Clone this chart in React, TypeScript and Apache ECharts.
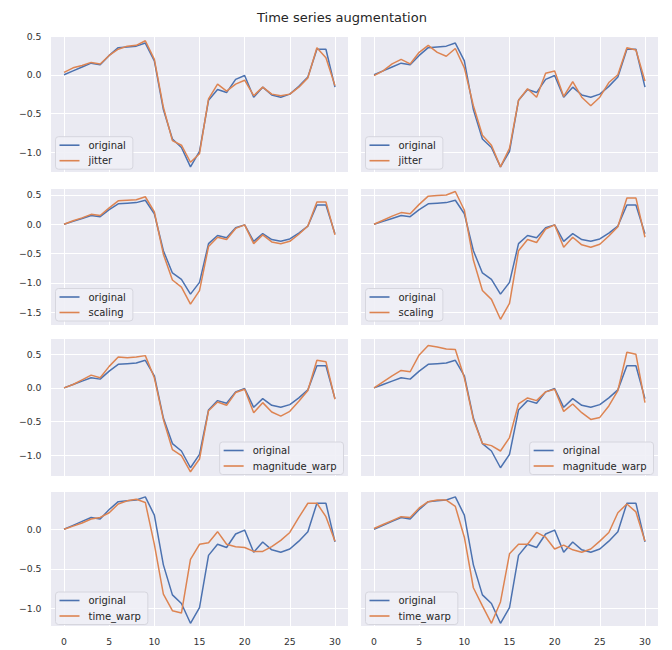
import React, { useEffect, useRef } from "react";
import * as echarts from "echarts";

const FONT = "DejaVu Sans";
const BLUE = "#4C72B0";
const ORANGE = "#DD8452";

const timeSteps = [0, 1, 2, 3, 4, 5, 6, 7, 8, 9, 10, 11, 12, 13, 14, 15, 16, 17, 18, 19, 20, 21, 22, 23, 24, 25, 26, 27, 28, 29, 30];

const original = [0.00, 0.05, 0.10, 0.15, 0.13, 0.25, 0.35, 0.36, 0.37, 0.41, 0.18, -0.45, -0.83, -0.94, -1.19, -0.99, -0.33, -0.19, -0.23, -0.06, -0.01, -0.29, -0.16, -0.26, -0.29, -0.25, -0.15, -0.03, 0.33, 0.33, -0.16];

const jitterA = [0.03, 0.09, 0.12, 0.16, 0.14, 0.25, 0.33, 0.37, 0.38, 0.44, 0.20, -0.42, -0.85, -0.91, -1.13, -1.02, -0.31, -0.12, -0.21, -0.12, -0.07, -0.27, -0.16, -0.25, -0.27, -0.25, -0.16, -0.04, 0.35, 0.22, -0.14];
const jitterB = [-0.01, 0.05, 0.14, 0.20, 0.14, 0.29, 0.38, 0.29, 0.24, 0.34, 0.09, -0.40, -0.78, -0.91, -1.19, -0.95, -0.33, -0.18, -0.29, 0.02, 0.05, -0.28, -0.09, -0.29, -0.40, -0.29, -0.10, 0.00, 0.35, 0.32, -0.08];

const scalingA = [0.00, 0.06, 0.11, 0.17, 0.15, 0.28, 0.40, 0.41, 0.42, 0.47, 0.21, -0.51, -0.95, -1.07, -1.36, -1.13, -0.38, -0.22, -0.26, -0.07, -0.01, -0.33, -0.18, -0.30, -0.33, -0.29, -0.17, -0.03, 0.38, 0.38, -0.18];
const scalingB = [0.00, 0.07, 0.14, 0.20, 0.18, 0.34, 0.48, 0.49, 0.50, 0.56, 0.24, -0.61, -1.13, -1.28, -1.62, -1.35, -0.45, -0.26, -0.31, -0.08, -0.01, -0.39, -0.22, -0.35, -0.39, -0.34, -0.20, -0.04, 0.45, 0.45, -0.22];

const magWarpA = [0.00, 0.05, 0.12, 0.19, 0.15, 0.32, 0.46, 0.45, 0.46, 0.48, 0.15, -0.47, -0.92, -1.01, -1.25, -1.06, -0.34, -0.21, -0.26, -0.07, -0.02, -0.37, -0.22, -0.36, -0.42, -0.35, -0.20, -0.04, 0.41, 0.39, -0.17];
const magWarpB = [0.00, 0.09, 0.18, 0.26, 0.24, 0.49, 0.63, 0.61, 0.58, 0.57, 0.15, -0.47, -0.83, -0.86, -0.94, -0.74, -0.24, -0.15, -0.19, -0.06, -0.02, -0.35, -0.24, -0.37, -0.47, -0.44, -0.27, -0.04, 0.53, 0.50, -0.22];

const timeWarpA = [0.00, 0.04, 0.08, 0.13, 0.15, 0.21, 0.32, 0.36, 0.38, 0.34, -0.19, -0.82, -1.03, -1.06, -0.38, -0.19, -0.17, -0.03, -0.19, -0.22, -0.23, -0.28, -0.28, -0.22, -0.14, -0.04, 0.15, 0.33, 0.33, 0.16, -0.15];
const timeWarpB = [0.01, 0.06, 0.11, 0.16, 0.15, 0.27, 0.35, 0.37, 0.37, 0.29, -0.10, -0.74, -0.97, -1.19, -0.92, -0.31, -0.19, -0.19, -0.04, -0.10, -0.25, -0.20, -0.26, -0.29, -0.25, -0.15, -0.04, 0.21, 0.32, 0.22, -0.15];

const augNames = ["jitter", "scaling", "magnitude_warp", "time_warp"];
const augData = [
  [jitterA, jitterB],
  [scalingA, scalingB],
  [magWarpA, magWarpB],
  [timeWarpA, timeWarpB],
];

const rowYMin = [-1.256, -1.717, -1.323, -1.233];
const rowYMax = [0.501, 0.614, 0.738, 0.476];
const rowTop = [36, 188.3, 338.3, 491.7];
const rowHeight = [136, 136.7, 138.4, 135];
const colLeft = [50.5, 360.5];
const plotWidth = 298;

function fmtY(v: number): string {
  const r = v / 0.5;
  if (Math.abs(r - Math.round(r)) > 1e-6) return "";
  const s = Math.abs(v).toFixed(1);
  return v < -1e-9 ? "\u2212" + s : s;
}

function fmtX(v: number): string {
  const r = v / 5;
  if (Math.abs(r - Math.round(r)) > 1e-6) return "";
  return String(Math.round(v));
}

export default function App() {
  const ref = useRef<HTMLDivElement>(null);
  useEffect(() => {
    if (!ref.current) return;
    const chart = echarts.init(ref.current, null, { renderer: "svg" });
    const grid: any[] = [];
    const xAxis: any[] = [];
    const yAxis: any[] = [];
    const series: any[] = [];
    const legend: any[] = [];
    let idx = 0;
    for (let row = 0; row < 4; row++) {
      for (let col = 0; col < 2; col++) {
        const i = idx++;
        grid.push({
          left: colLeft[col],
          top: rowTop[row],
          width: plotWidth,
          height: rowHeight[row],
          show: true,
          backgroundColor: "#EAEAF2",
          borderWidth: 0,
        });
        xAxis.push({
          type: "value",
          gridIndex: i,
          min: -1.5,
          max: 31.5,
          minInterval: 5,
          maxInterval: 5,
          axisLine: { show: false },
          axisTick: { show: false },
          splitLine: { show: true, lineStyle: { color: "#ffffff", width: 1 } },
          axisLabel: {
            show: row === 3,
            formatter: fmtX,
            fontFamily: FONT,
            fontSize: 9.3,
            color: "#333333",
            margin: 10,
          },
        });
        yAxis.push({
          type: "value",
          gridIndex: i,
          min: rowYMin[row],
          max: rowYMax[row],
          minInterval: 0.5,
          maxInterval: 0.5,
          axisLine: { show: false },
          axisTick: { show: false },
          splitLine: { show: true, lineStyle: { color: "#ffffff", width: 1 } },
          axisLabel: {
            show: col === 0,
            formatter: fmtY,
            fontFamily: FONT,
            fontSize: 9.3,
            color: "#333333",
            margin: 9,
          },
        });
        series.push({
          type: "line",
          name: "original",
          xAxisIndex: i,
          yAxisIndex: i,
          data: timeSteps.map((t, k) => [t, original[k]]),
          showSymbol: false,
          symbol: "none",
          color: BLUE,
          lineStyle: { color: BLUE, width: 1.5 },
          z: 2,
        });
        series.push({
          type: "line",
          name: augNames[row],
          xAxisIndex: i,
          yAxisIndex: i,
          data: timeSteps.map((t, k) => [t, augData[row][col][k]]),
          showSymbol: false,
          symbol: "none",
          color: ORANGE,
          lineStyle: { color: ORANGE, width: 1.5 },
          z: 3,
        });
        const lg: any = {
          data: ["original", augNames[row]],
          orient: "vertical",
          selectedMode: false,
          icon: "rect",
          itemWidth: 20,
          itemHeight: 1.6,
          itemGap: 3.5,
          padding: [2.5, 7, 2.5, 4],
          backgroundColor: "rgba(240,240,246,0.9)",
          borderColor: "#d6d6de",
          borderWidth: 1,
          borderRadius: 3,
          textStyle: {
            fontFamily: FONT,
            fontSize: 10,
            color: "#262626",
            lineHeight: 12,
            padding: [0, 0, 0, 4],
          },
        };
        if (row === 2) {
          lg.right = 672 - (colLeft[col] + plotWidth) + 5;
          lg.top = 442;
        } else {
          lg.left = colLeft[col] + 5;
          lg.top = [136.7, 288.5, 0, 592][row];
        }
        legend.push(lg);
      }
    }
    chart.setOption({
      animation: false,
      backgroundColor: "#ffffff",
      title: {
        text: "Time series augmentation",
        left: 252,
        top: 6,
        textStyle: {
          fontFamily: FONT,
          fontSize: 13,
          fontWeight: "normal",
          color: "#262626",
        },
      },
      grid,
      xAxis,
      yAxis,
      series,
      legend,
    });
    return () => chart.dispose();
  }, []);
  return (
    <div
      ref={ref}
      style={{ position: "fixed", left: 0, top: 0, width: 672, height: 650 }}
    />
  );
}
